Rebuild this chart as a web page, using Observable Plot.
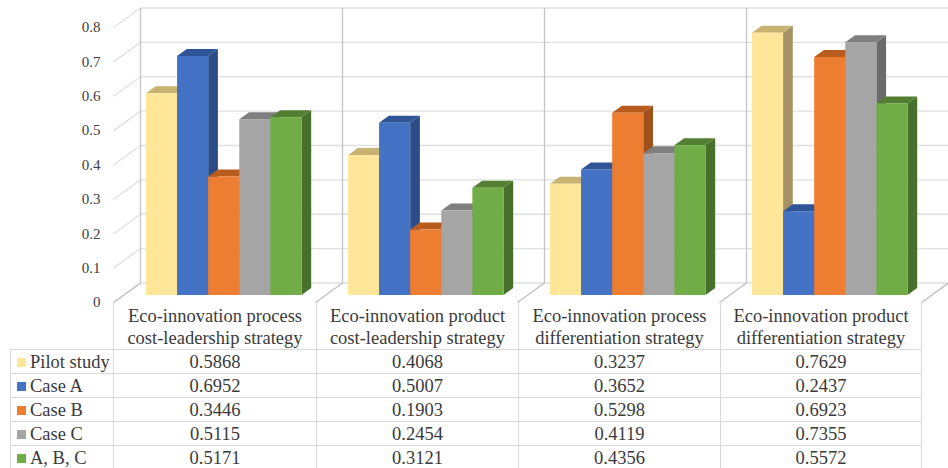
<!DOCTYPE html>
<html>
<head>
<meta charset="utf-8">
<script src="https://cdn.jsdelivr.net/npm/d3@7"></script>
<script src="https://cdn.jsdelivr.net/npm/@observablehq/plot@0.6"></script>
<style>
  html, body { margin: 0; padding: 0; background: #fff; }
  #wrap { position: relative; width: 948px; height: 468px; overflow: hidden; font-family: "Liberation Serif", "Times New Roman", serif; }
  #wrap svg { position: absolute; left: 0; top: 0; }
  table { position: absolute; left: 10px; top: 302px; border-collapse: collapse; table-layout: fixed; font-family: "Liberation Serif", "Times New Roman", serif; font-size: 18.5px; color: #3a3a3a; }
  th { font-weight: normal; height: 45px; line-height: 22px; padding: 3px 0 0 0; vertical-align: top; text-align: center; border-left: 1px solid #d9d9d9; border-right: 1px solid #d9d9d9; border-bottom: 1px solid #d9d9d9; white-space: nowrap; box-sizing: border-box; }
  th.blank { border: none; }
  td { height: 24px; line-height: 22px; padding: 0; text-align: center; border: 1px solid #d9d9d9; white-space: nowrap; box-sizing: border-box; }
  td.leg { text-align: left; padding-left: 6px; }
  .sw { display: inline-block; width: 9px; height: 9px; margin-right: 4px; vertical-align: 1px; }
</style>
</head>
<body>
<div id="wrap"></div>
<script>
// ---- data ----
const categories = [
  ["Eco-innovation process", "cost-leadership strategy"],
  ["Eco-innovation product", "cost-leadership strategy"],
  ["Eco-innovation process", "differentiation strategy"],
  ["Eco-innovation product", "differentiation strategy"]
];
const seriesNames = ["Pilot study", "Case A", "Case B", "Case C", "A, B, C"];
const pilotStudy = [0.5868, 0.4068, 0.3237, 0.7629];
const caseA = [0.6952, 0.5007, 0.3652, 0.2437];
const caseB = [0.3446, 0.1903, 0.5298, 0.6923];
const caseC = [0.5115, 0.2454, 0.4119, 0.7355];
const caseABC = [0.5171, 0.3121, 0.4356, 0.5572];
const yTicks = [0, 0.1, 0.2, 0.3, 0.4, 0.5, 0.6, 0.7, 0.8];

// ---- styles ----
const frontColors = ["#FFE699", "#4472C4", "#ED7D31", "#A5A5A5", "#70AD47"];
const topColors   = ["#C9B373", "#2F5597", "#BA5C1E", "#7F7F7F", "#537F33"];
const sideColors  = ["#A69164", "#2B4C87", "#A0501B", "#6B6B6B", "#47702C"];

const seriesValues = [pilotStudy, caseA, caseB, caseC, caseABC];

// layout (pixel geometry of the pseudo-3D frame)
const W = 948, H = 303;
const mL = 113, mR = 27, mT = 27, mB = 1;
const pxX = (W - mL - mR) / 4;          // px per category unit
const pxY = (H - mT - mB) / 0.8;        // px per value unit
const DX = 27 / pxX, DY = 19.5 / pxY;   // full depth of the frame, in data units
const d0 = 0.36, d1 = 0.72;             // bar front / back depth
const BW = 31.1 / pxX;                  // bar width in category units
const GAP = (1 - 5 * BW) / 2;

const bars = [];
categories.forEach((c, i) => {
  seriesNames.forEach((s, j) => {
    const v = seriesValues[j][i];
    const x0 = i + GAP + j * BW, x1 = x0 + BW;
    bars.push({id: i * 5 + j, i, j, v, x0, x1});
  });
});

const fronts = bars.map(b => ({
  x1: b.x0 + d0 * DX, x2: b.x1 + d0 * DX, y1: d0 * DY, y2: b.v + d0 * DY, fill: frontColors[b.j]
}));
const sides = bars.flatMap(b => [d0, d1].map(d => ({
  id: b.id, x: b.x1 + d * DX, y1: d * DY, y2: b.v + d * DY, fill: sideColors[b.j]
})));
const tops = bars.flatMap(b => [d0, d1].map(d => ({
  id: b.id, y: b.v + d * DY, x1: b.x0 + d * DX, x2: b.x1 + d * DX, fill: topColors[b.j]
})));

const backGrid = yTicks.map(v => ({x1: DX, x2: 4 + DX, y1: v + DY, y2: v + DY}));
const wallDiag = yTicks.map(v => ({x1: 0, x2: DX, y1: v, y2: v + DY}));
const backVert = [0, 1, 2, 3].map(i => ({x1: i + DX, x2: i + DX, y1: DY, y2: 0.8 + DY}));
const floorDiag = [0, 1, 2, 3, 4].map(i => ({x1: i, x2: i + DX, y1: 0, y2: DY}));

const fmt = d => String(+d.toFixed(1));

const chart = Plot.plot({
  width: W, height: H,
  marginLeft: mL, marginRight: mR, marginTop: mT, marginBottom: mB,
  x: {domain: [0, 4], axis: null},
  y: {domain: [0, 0.8], axis: null},
  color: {type: "identity"},
  style: {fontFamily: "Liberation Serif, Times New Roman, serif", background: "white", overflow: "visible"},
  marks: [
    Plot.link(backGrid, {x1: "x1", x2: "x2", y1: "y1", y2: "y2", stroke: "#e0e0e0", strokeWidth: 1.3}),
    Plot.link(wallDiag, {x1: "x1", x2: "x2", y1: "y1", y2: "y2", stroke: "#e0e0e0", strokeWidth: 1.3}),
    Plot.link(backVert, {x1: "x1", x2: "x2", y1: "y1", y2: "y2", stroke: "#c4c4c4", strokeWidth: 1.3}),
    Plot.link(floorDiag, {x1: "x1", x2: "x2", y1: "y1", y2: "y2", stroke: "#bfbfbf", strokeWidth: 1.3}),
    Plot.area(sides, {x1: "x", y1: "y1", y2: "y2", z: "id", fill: "fill"}),
    Plot.area(tops, {y1: "y", x1: "x1", x2: "x2", z: "id", fill: "fill"}),
    Plot.rect(fronts, {x1: "x1", x2: "x2", y1: "y1", y2: "y2", fill: "fill"}),
    Plot.axisY(yTicks, {tickSize: 0, tickPadding: 13, tickFormat: fmt, fontSize: 15, fill: "#404040"})
  ]
});

const wrap = document.getElementById("wrap");
wrap.appendChild(chart);

// data table below the chart
const colW = [103, 203, 202, 202, 201];
let html = "<table><colgroup>" + colW.map(w => `<col style="width:${w}px">`).join("") + "</colgroup>";
html += "<tr><th class='blank'></th>" + categories.map(c => `<th>${c[0]}<br>${c[1]}</th>`).join("") + "</tr>";
seriesNames.forEach((s, j) => {
  html += `<tr><td class="leg"><span class="sw" style="background:${frontColors[j]}"></span>${s}</td>` +
    seriesValues[j].map(v => `<td>${v.toFixed(4)}</td>`).join("") + "</tr>";
});
html += "</table>";
wrap.insertAdjacentHTML("beforeend", html);
</script>
</body>
</html>
